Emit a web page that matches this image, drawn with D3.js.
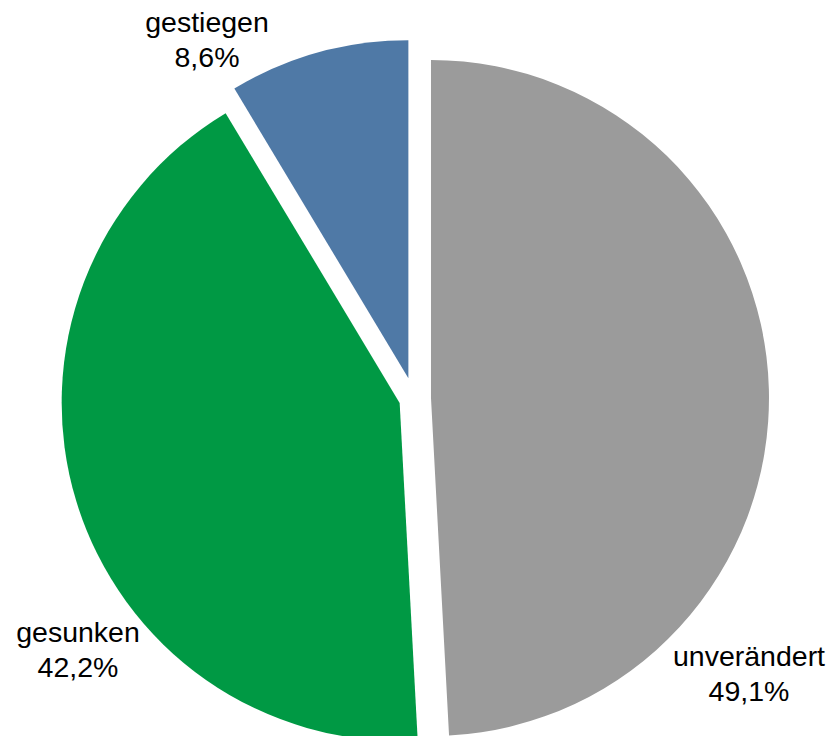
<!DOCTYPE html>
<html>
<head>
<meta charset="utf-8">
<script src="https://cdn.jsdelivr.net/npm/d3@7"></script>
<style>
  html, body { margin: 0; padding: 0; background: #ffffff; }
  svg { display: block; }
  text { font-family: "Liberation Sans", Arial, sans-serif; fill: #000; }
</style>
</head>
<body>
<svg id="chart" width="829" height="736"></svg>
<script>
// Share of answers per category (percent)
const categories = ["unverändert", "gesunken", "gestiegen"];
const values = [49.1, 42.2, 8.6];
const valueLabels = ["49,1%", "42,2%", "8,6%"];

// Appearance
const colors = ["#9b9b9b", "#009944", "#4f79a6"];
const explode = [17, 15, 21];          // outward shift of each slice, px
const labelAnchor = [                   // centre of each two-line label
  { x: 749, y: 666 },
  { x: 78,  y: 642 },
  { x: 207, y: 32 }
];

const width = 829, height = 736;
const cx = 414, cy = 398.5, radius = 338;
const fontSize = 28.5, lineGap = 35;

const svg = d3.select("#chart");
const g = svg.append("g").attr("transform", `translate(${cx},${cy})`);

const pie = d3.pie().sort(null).value(d => d.value);
const arc = d3.arc().innerRadius(0).outerRadius(radius);

const data = categories.map((c, i) => ({
  name: c, value: values[i], label: valueLabels[i],
  color: colors[i], explode: explode[i], anchor: labelAnchor[i]
}));
const arcs = pie(data);

g.selectAll("path.slice")
  .data(arcs)
  .join("path")
  .attr("class", "slice")
  .attr("d", arc)
  .attr("fill", d => d.data.color)
  .attr("transform", d => {
    const mid = (d.startAngle + d.endAngle) / 2;
    return `translate(${Math.sin(mid) * d.data.explode},${-Math.cos(mid) * d.data.explode})`;
  });

const labels = svg.selectAll("text.lbl")
  .data(arcs)
  .join("text")
  .attr("class", "lbl")
  .attr("text-anchor", "middle")
  .attr("font-size", fontSize);

labels.append("tspan")
  .attr("x", d => d.data.anchor.x)
  .attr("y", d => d.data.anchor.y)
  .text(d => d.data.name);
labels.append("tspan")
  .attr("x", d => d.data.anchor.x)
  .attr("y", d => d.data.anchor.y + lineGap)
  .text(d => d.data.label);
</script>
</body>
</html>
